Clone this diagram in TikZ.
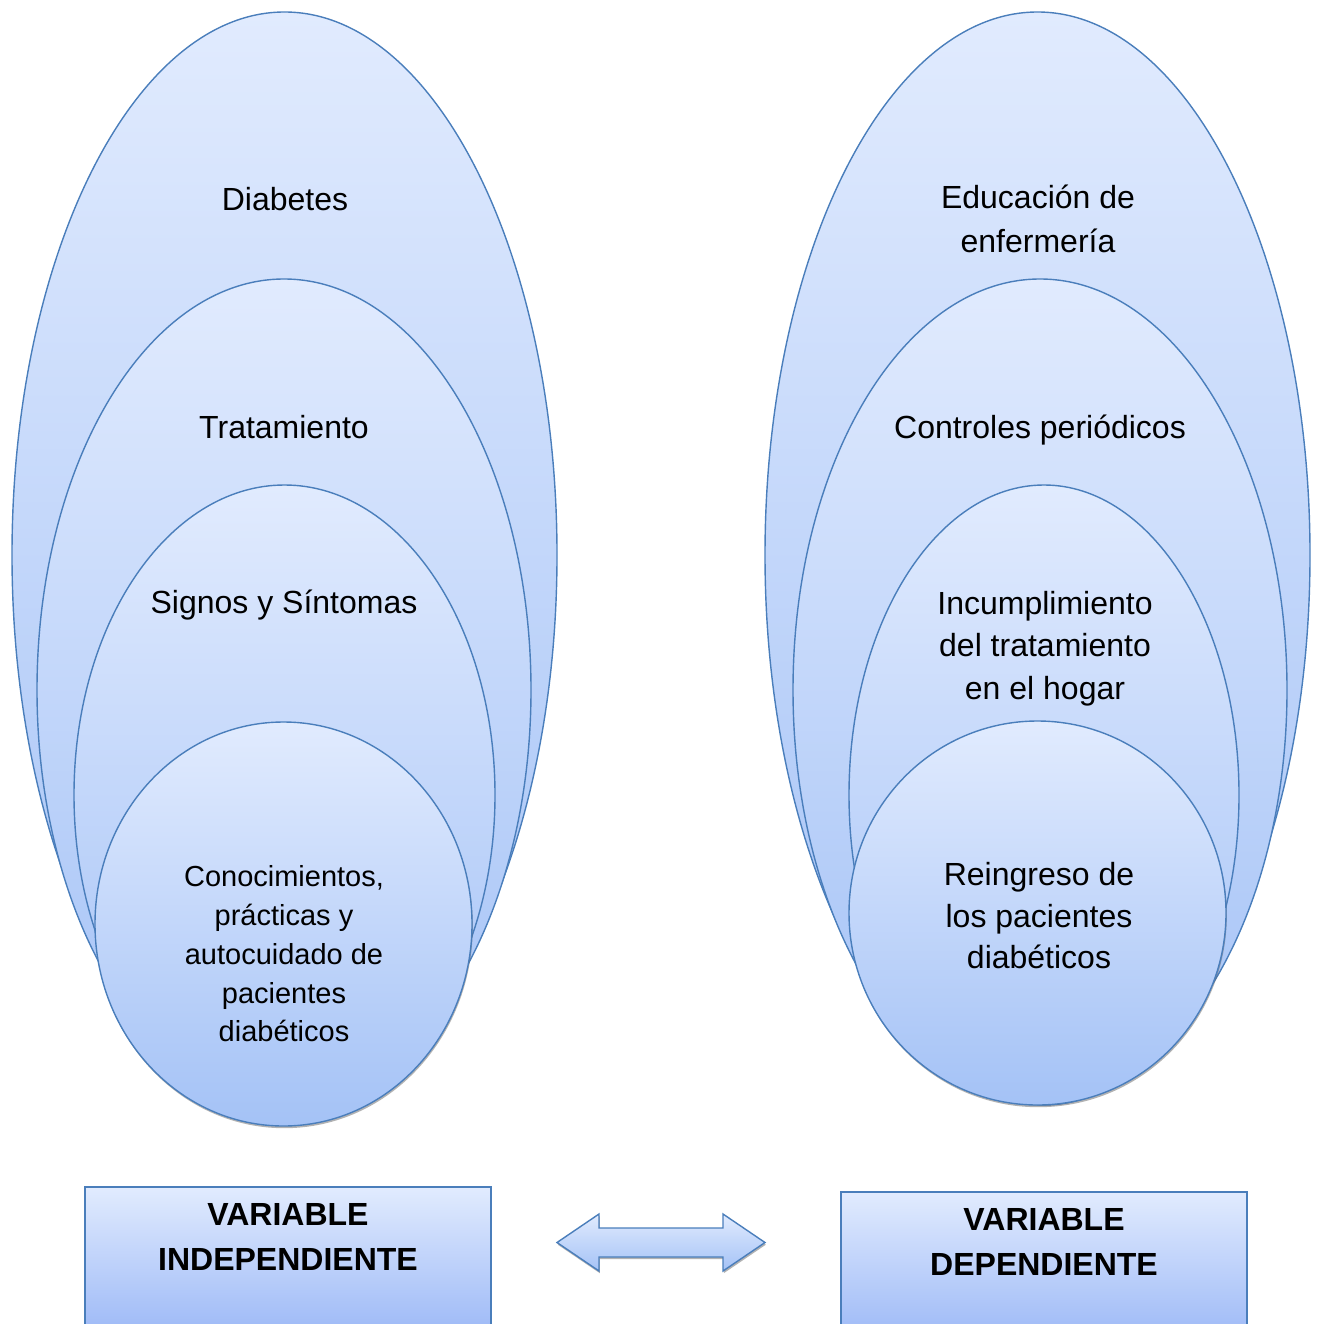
\documentclass[tikz,border=0pt]{standalone}
\usepackage{fontspec}
\setmainfont{Liberation Sans}
\usetikzlibrary{shapes.geometric,shadows}
\definecolor{topc}{RGB}{225,235,254}
\definecolor{botc}{RGB}{164,194,246}
\definecolor{linec}{RGB}{74,126,187}
\tikzset{
  oval/.style={ellipse, draw=linec, line width=1.4pt, top color=topc, bottom color=botc, inner sep=0pt, outer sep=0pt},
  lbl/.style={font=\fontsize{32}{43}\selectfont, align=center, inner sep=0pt},
  vbox/.style={rectangle, draw=linec, line width=1.4pt, top color=topc, bottom color=botc!95!blue, inner sep=0pt, outer sep=0pt},
  vlbl/.style={font=\fontsize{32}{45}\selectfont\bfseries, align=center, inner sep=0pt},
  shad/.style={drop shadow={shadow xshift=0.8pt, shadow yshift=-2.2pt, opacity=0.5, fill=black!60}}
}
\begin{document}
\begin{tikzpicture}[x=1pt,y=-1pt]
\useasboundingbox (0,0) rectangle (1317,1324);
\clip (0,0) rectangle (1317,1324);
% left group
\node[oval, minimum width=545, minimum height=1086] (l1) at (284.5,555) {};
\node[oval, minimum width=494, minimum height=822] (l2) at (284,690) {};
\node[oval, minimum width=421, minimum height=620] (l3) at (284.5,795) {};
\node[oval, shad, minimum width=377, minimum height=404] (l4) at (283.5,924) {};
% right group
\node[oval, minimum width=545, minimum height=1086] (r1) at (1037.5,555) {};
\node[oval, minimum width=494, minimum height=822] (r2) at (1040,690) {};
\node[oval, minimum width=390, minimum height=620] (r3) at (1044,795) {};
\node[oval, shad, minimum width=377, minimum height=384] (r4) at (1037.5,913) {};
% labels left
\node[lbl] (t1) at (285,199) {Diabetes};
\node[lbl] (t2) at (284,427) {Tratamiento};
\node[lbl] (t3) at (284,605) {Signos y Síntomas};
\node[lbl, font=\fontsize{29}{38.8}\selectfont] (t4) at (284,954) {Conocimientos,\\prácticas y\\autocuidado de\\pacientes\\diabéticos};
% labels right
\node[lbl, font=\fontsize{32}{44}\selectfont] (s1) at (1038,219) {Educación de\\enfermería};
\node[lbl] (s2) at (1040,430) {Controles periódicos};
\node[lbl, font=\fontsize{32}{42.5}\selectfont] (s3) at (1045,648.5) {Incumplimiento\\del tratamiento\\en el hogar};
\node[lbl, font=\fontsize{32}{41.5}\selectfont] (s4) at (1039,916) {Reingreso de\\los pacientes\\diabéticos};
% bottom boxes
\node[vbox, minimum width=406, minimum height=150, anchor=north west] (vi) at (85,1187) {};
\node[vbox, minimum width=406, minimum height=150, anchor=north west] (vd) at (841,1192) {};
\node[vlbl] (vit) at (288,1237) {VARIABLE\\INDEPENDIENTE};
\node[vlbl] (vdt) at (1044,1241.5) {VARIABLE\\DEPENDIENTE};
% double arrow
\draw[linec, line width=1.4pt, top color=topc, bottom color=botc, shad, line join=miter]
  (557,1242.5) -- (599,1214) -- (599,1228) -- (723,1228) -- (723,1214) -- (765,1242.5)
  -- (723,1271) -- (723,1257) -- (599,1257) -- (599,1271) -- cycle;
\end{tikzpicture}
\end{document}
